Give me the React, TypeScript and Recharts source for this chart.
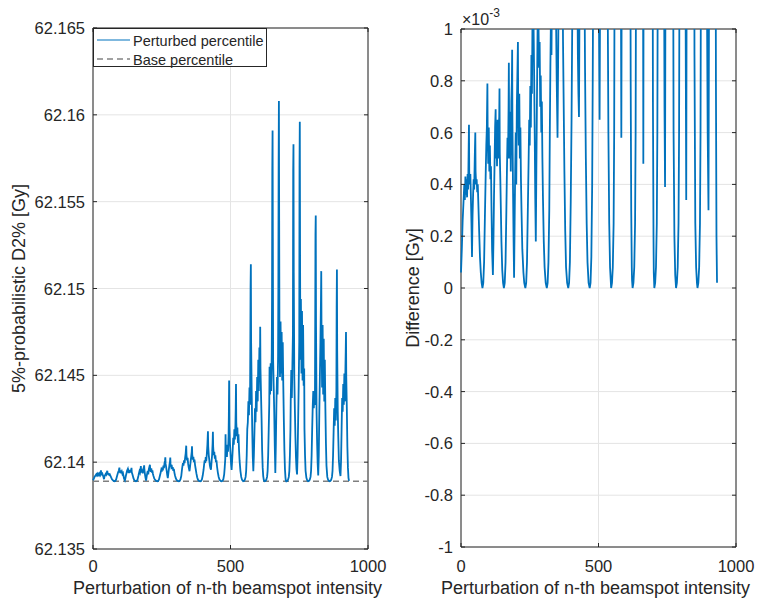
import React from 'react';
import { LineChart, Line, XAxis, YAxis, CartesianGrid, ReferenceArea, Legend } from 'recharts';

const FONT = '"Liberation Sans", Arial, Helvetica, sans-serif';
const INK = '#262626';
const BLUE = '#0072BD';
const GRID = '#e4e4e4';

// dashed reference level (Gy)
const basePercentile = 62.1389;

const xTicks = [0, 500, 1000];
const leftTicks = [62.135, 62.14, 62.145, 62.15, 62.155, 62.16, 62.165];
const rightTicks = [-1, -0.8, -0.6, -0.4, -0.2, 0, 0.2, 0.4, 0.6, 0.8, 1];
const legendOrder = ['Perturbed percentile', 'Base percentile'];

// [beamspot index, perturbed - base in 1e-3 Gy]
const hump01: [number, number][] = [
  [0, 0.06], [3, 0.15], [6, 0.26], [9, 0.33], [12, 0.4], [14, 0.34], [16, 0.43], [18, 0.36], [20, 0.42],
  [22, 0.35], [24, 0.44], [26, 0.38], [28, 0.55], [29, 0.63], [30, 0.45], [32, 0.4], [34, 0.44], [36, 0.35],
  [38, 0.25], [40, 0.12], [42, 0.28], [44, 0.36], [46, 0.42], [48, 0.38], [50, 0.5], [52, 0.6], [53, 0.45],
  [55, 0.4], [57, 0.42], [59, 0.37], [61, 0.4], [63, 0.33], [66, 0.22], [69, 0.12], [72, 0.06], [75, 0.02],
];
const hump02: [number, number][] = [
  [78, 0], [81, 0.02], [84, 0.1], [87, 0.28], [90, 0.45], [92, 0.55], [94, 0.62], [96, 0.79], [97, 0.6],
  [99, 0.48], [101, 0.62], [103, 0.45], [105, 0.55], [107, 0.42], [109, 0.47], [111, 0.3], [113, 0.15],
  [116, 0.05], [118, 0.18], [120, 0.35], [122, 0.48], [124, 0.62], [126, 0.69], [127, 0.5], [129, 0.6],
  [131, 0.47], [133, 0.65], [135, 0.5], [137, 0.62], [139, 0.66], [140, 0.77], [141, 0.52], [143, 0.42],
  [145, 0.3], [147, 0.18], [150, 0.07], [153, 0.02],
];
const hump03: [number, number][] = [
  [156, 0], [159, 0.02], [162, 0.1], [165, 0.3], [167, 0.45], [169, 0.58], [171, 0.5], [173, 0.7], [174, 0.87],
  [175, 0.6], [177, 0.5], [179, 0.68], [181, 0.45], [183, 0.72], [185, 0.8], [186, 0.92], [187, 0.65],
  [189, 0.4], [191, 0.2], [193, 0.04], [195, 0.25], [197, 0.45], [199, 0.6], [201, 0.4], [203, 0.7],
  [205, 0.82], [207, 0.95], [208, 0.7], [210, 0.55], [212, 0.75], [214, 0.5], [216, 0.62], [218, 0.42],
  [220, 0.3], [223, 0.15], [227, 0.06], [230, 0.02],
];
const hump04: [number, number][] = [
  [234, 0], [237, 0.02], [240, 0.1], [243, 0.3], [246, 0.5], [248, 0.65], [250, 0.55], [252, 0.78], [254, 0.62],
  [256, 0.9], [258, 0.75], [260, 1.05], [262, 1.2], [263, 1.38], [264, 1.0], [266, 0.82], [268, 0.6],
  [270, 0.35], [272, 0.18], [274, 0.45], [276, 0.7], [278, 0.95], [280, 1.15], [281, 1.36], [282, 1.0],
  [284, 0.85], [286, 0.95], [288, 0.7], [290, 0.82], [292, 0.6], [294, 0.72], [296, 0.5], [298, 0.35],
  [301, 0.18], [304, 0.08], [308, 0.02],
];
const hump05: [number, number][] = [
  [312, 0], [315, 0.02], [318, 0.1], [321, 0.3], [323, 0.6], [325, 0.85], [327, 1.05], [329, 0.9], [331, 1.2],
  [333, 1.05], [335, 1.35], [337, 1.6], [339, 2.05], [340, 1.5], [342, 1.2], [344, 1.35], [346, 1.0],
  [348, 0.8], [351, 0.58], [353, 0.85], [355, 1.15], [357, 1.4], [359, 1.7], [360, 2.02], [361, 1.5],
  [363, 1.25], [365, 1.4], [367, 1.1], [369, 1.25], [371, 0.95], [373, 0.75], [376, 0.45], [379, 0.22],
  [382, 0.08], [386, 0.02],
];
const hump06: [number, number][] = [
  [390, 0], [393, 0.02], [396, 0.1], [399, 0.33], [402, 0.65], [404, 0.95], [406, 1.2], [408, 1.05], [410, 1.4],
  [412, 1.15], [414, 1.6], [416, 2.1], [418, 2.88], [419, 2.0], [421, 1.5], [423, 1.2], [425, 0.9], [427, 0.75],
  [429, 0.66], [431, 1.1], [433, 1.5], [435, 2.2], [436, 2.85], [437, 2.0], [439, 1.5], [441, 1.7], [443, 1.3],
  [445, 1.5], [447, 1.1], [449, 1.2], [451, 0.85], [454, 0.5], [457, 0.25], [460, 0.1], [464, 0.02],
];
const hump07: [number, number][] = [
  [468, 0], [471, 0.02], [474, 0.12], [477, 0.4], [479, 0.8], [481, 1.3], [482, 2.7], [483, 1.6], [485, 1.9],
  [487, 1.4], [489, 2.1], [491, 1.7], [493, 2.6], [494, 3.8], [495, 5.8], [496, 3.2], [498, 2.2], [500, 1.6],
  [502, 1.0], [504, 0.65], [506, 1.2], [508, 1.8], [510, 2.5], [512, 2.1], [514, 3.0], [516, 2.4], [518, 3.3],
  [519, 4.2], [520, 5.6], [521, 3.4], [523, 2.6], [525, 3.1], [527, 2.2], [529, 2.7], [531, 1.8], [533, 1.2],
  [536, 0.6], [539, 0.25], [542, 0.08],
];
const hump08: [number, number][] = [
  [546, 0], [549, 0.02], [552, 0.08], [555, 0.25], [557, 0.6], [559, 1.5], [561, 3.0], [563, 3.4], [565, 4.6],
  [567, 3.8], [569, 5.4], [571, 4.4], [572, 7.5], [573, 11.2], [574, 12.5], [575, 8.0], [577, 5.2], [579, 3.0],
  [581, 1.4], [583, 0.58], [585, 1.5], [587, 2.8], [589, 4.2], [591, 3.4], [593, 5.2], [595, 4.0], [597, 6.0],
  [599, 4.6], [601, 7.0], [603, 5.2], [605, 7.7], [607, 6.0], [608, 8.9], [609, 6.5], [611, 5.0], [613, 3.6],
  [615, 1.8], [617, 0.8], [619, 0.3], [621, 0.08], [622, 0.03],
];
const hump09: [number, number][] = [
  [624, 0], [627, 0.02], [630, 0.08], [633, 0.25], [635, 0.6], [637, 1.5], [639, 3.0], [641, 4.5], [642, 6.6],
  [644, 5.0], [646, 6.8], [648, 5.2], [650, 7.4], [651, 10.5], [652, 17.9], [653, 20.2], [654, 14.0], [655, 7.0],
  [657, 5.5], [659, 4.0], [661, 2.0], [663, 0.48], [665, 2.2], [667, 4.4], [669, 6.0], [671, 5.0], [673, 7.2],
  [674, 11.0], [675, 18.2], [676, 21.9], [677, 15.0], [678, 8.5], [680, 6.0], [682, 9.2], [684, 6.2],
  [686, 8.6], [688, 5.8], [690, 8.0], [692, 5.5], [694, 3.5], [696, 1.8], [698, 0.7], [700, 0.2], [701, 0.06],
];
const hump10: [number, number][] = [
  [703, 0], [706, 0.02], [709, 0.08], [712, 0.25], [714, 0.6], [716, 1.5], [718, 3.0], [719, 4.6], [721, 6.4],
  [723, 4.8], [725, 6.6], [727, 8.5], [728, 17.9], [729, 19.4], [730, 12.0], [732, 6.0], [734, 4.2], [736, 2.6],
  [738, 1.4], [740, 0.7], [742, 0.39], [744, 1.5], [746, 3.5], [748, 5.5], [750, 8.0], [751, 18.1], [752, 20.7],
  [753, 13.0], [754, 7.0], [756, 10.5], [758, 6.2], [760, 9.8], [762, 5.8], [764, 9.0], [766, 5.5], [768, 6.5],
  [769, 3.0], [771, 1.5], [773, 0.6], [776, 0.2], [779, 0.05],
];
const hump11: [number, number][] = [
  [782, 0], [785, 0.02], [788, 0.08], [791, 0.25], [793, 0.6], [795, 1.5], [797, 3.0], [799, 4.3], [801, 5.2],
  [803, 4.2], [805, 5.0], [807, 4.4], [808, 9.0], [809, 14.2], [810, 15.3], [811, 9.0], [813, 4.0], [815, 2.2],
  [817, 1.0], [819, 0.34], [821, 1.5], [823, 4.0], [825, 6.0], [827, 8.0], [829, 10.5], [830, 12.1], [831, 8.6],
  [833, 5.4], [835, 9.0], [837, 5.0], [839, 8.2], [841, 4.6], [843, 7.0], [845, 4.2], [847, 2.2], [849, 0.9],
  [852, 0.25], [855, 0.08], [858, 0.02],
];
const hump12: [number, number][] = [
  [860, 0], [863, 0.02], [866, 0.08], [869, 0.25], [871, 0.6], [873, 1.5], [875, 2.9], [877, 4.2], [879, 3.2],
  [881, 4.8], [883, 3.5], [885, 5.2], [886, 10.0], [887, 12.2], [888, 7.5], [890, 4.0], [892, 2.5], [894, 1.2],
  [897, 0.6], [900, 0.3], [902, 1.2], [904, 3.0], [906, 4.8], [908, 4.0], [910, 5.6], [912, 4.4], [914, 6.2],
  [916, 4.6], [918, 6.6], [919, 7.5], [920, 8.6], [921, 6.0], [923, 4.2], [925, 2.0], [927, 0.8], [929, 0.2],
  [931, 0.02],
];

const trace = [
  ...hump01, ...hump02, ...hump03, ...hump04, ...hump05, ...hump06,
  ...hump07, ...hump08, ...hump09, ...hump10, ...hump11, ...hump12,
];

const perturbedData = trace.map(([n, d]) => ({ n, value: basePercentile + d / 1000 }));
const differenceData = trace.map(([n, d]) => ({ n, diff: d }));
const baseData = [
  { n: xTicks[0], value: basePercentile },
  { n: xTicks[xTicks.length - 1], value: basePercentile },
];

type Geo = { w: number; h: number; plotLeft: number; plotTop: number; plotW: number; plotH: number };

const Y_AXIS_W = 60;
const X_AXIS_H = 40;
const TICK_LEN = 4;

// the left svg is wider than its half so that "1000" and the x title are not cut off
const leftGeo: Geo = { w: 420, h: 606, plotLeft: 93, plotTop: 28, plotW: 275, plotH: 521 };
const rightGeo: Geo = { w: 381, h: 606, plotLeft: 80, plotTop: 29, plotW: 275, plotH: 518 };

function marginFor(g: Geo) {
  return {
    top: g.plotTop,
    left: g.plotLeft - Y_AXIS_W,
    right: g.w - g.plotLeft - g.plotW,
    bottom: g.h - g.plotTop - g.plotH - X_AXIS_H,
  };
}

const trim = (digits: number) => (v: number) => String(Number(v.toFixed(digits)));

function makeYTick(g: Geo, fmt: (v: number) => string) {
  return function YTick(props: any) {
    const y = props.payload?.coordinate ?? props.y;
    const right = g.plotLeft + g.plotW;
    return (
      <g>
        <line x1={g.plotLeft} x2={g.plotLeft + TICK_LEN} y1={y} y2={y} stroke={INK} />
        <line x1={right - TICK_LEN} x2={right} y1={y} y2={y} stroke={INK} />
        <text x={g.plotLeft - 8} y={y} textAnchor="end" dominantBaseline="central"
          fontFamily={FONT} fontSize={16.5} fill={INK}>
          {fmt(props.payload.value)}
        </text>
      </g>
    );
  };
}

function makeXTick(g: Geo) {
  return function XTick(props: any) {
    const x = props.payload?.coordinate ?? props.x;
    const bottom = g.plotTop + g.plotH;
    return (
      <g>
        <line x1={x} x2={x} y1={bottom} y2={bottom - TICK_LEN} stroke={INK} />
        <line x1={x} x2={x} y1={g.plotTop} y2={g.plotTop + TICK_LEN} stroke={INK} />
        <text x={x} y={566} textAnchor="middle" dominantBaseline="central"
          fontFamily={FONT} fontSize={16.5} fill={INK}>
          {props.payload.value}
        </text>
      </g>
    );
  };
}

function XTitle({ geo }: { geo: Geo }) {
  return (
    <text x={geo.plotLeft + geo.plotW / 2 - 3} y={588} textAnchor="middle" dominantBaseline="central"
      fontFamily={FONT} fontSize={18} fill={INK}>
      Perturbation of n-th beamspot intensity
    </text>
  );
}

function YTitle({ geo, titleX, title, exponent }: { geo: Geo; titleX: number; title: string; exponent?: boolean }) {
  const cy = geo.plotTop + geo.plotH / 2;
  return (
    <g>
      <text transform={`translate(${titleX}, ${cy}) rotate(-90)`} textAnchor="middle" dominantBaseline="central"
        fontFamily={FONT} fontSize={18} fill={INK}>
        {title}
      </text>
      {exponent && (
        <text transform={`translate(${geo.plotLeft + 1}, 19)`} dominantBaseline="central"
          fontFamily={FONT} fontSize={16} fill={INK}>
          ×10<tspan dy={-6} fontSize={12}>-3</tspan>
        </text>
      )}
    </g>
  );
}

function LegendBox({ payload }: any) {
  const entries = [...(payload ?? [])].sort(
    (a: any, b: any) => legendOrder.indexOf(a.value) - legendOrder.indexOf(b.value),
  );
  return (
    <div style={{
      width: 174, height: 39, boxSizing: 'border-box', border: `1px solid ${INK}`,
      background: '#fff', fontFamily: FONT,
    }}>
      <svg width={172} height={37} style={{ display: 'block', overflow: 'visible' }}>
        {entries.map((e: any, i: number) => {
          const cy = 11 + i * 19;
          const dash = e.payload?.strokeDasharray;
          return (
            <g key={e.value}>
              <line x1={3} x2={36} y1={cy} y2={cy} stroke={dash ? '#444' : e.color} strokeWidth={1.2}
                strokeDasharray={dash} />
              <text x={39} y={cy + 1} dominantBaseline="central" fontFamily={FONT} fontSize={14.5} fill={INK}>
                {e.value}
              </text>
            </g>
          );
        })}
      </svg>
    </div>
  );
}

function PercentilePanel() {
  const g = leftGeo;
  return (
    <LineChart width={g.w} height={g.h} margin={marginFor(g)}>
      <CartesianGrid stroke={GRID} />
      <XAxis dataKey="n" type="number" domain={[0, 1000]} ticks={xTicks} interval={0} height={X_AXIS_H}
        axisLine={false} tickLine={false} tick={makeXTick(g)} label={<XTitle geo={g} />} />
      <YAxis type="number" domain={[62.135, 62.165]} ticks={leftTicks} interval={0} width={Y_AXIS_W}
        axisLine={false} tickLine={false} tick={makeYTick(g, trim(3))}
        label={<YTitle geo={g} titleX={19} title="5%-probabilistic D2% [Gy]" />} />
      <ReferenceArea x1={0} x2={1000} y1={62.135} y2={62.165} fill="none" stroke={INK} strokeOpacity={1} />
      <Line data={baseData} dataKey="value" name="Base percentile" stroke="#7f7f7f" strokeWidth={1.5}
        strokeDasharray="6 4" dot={false} activeDot={false} isAnimationActive={false} />
      <Line data={perturbedData} dataKey="value" name="Perturbed percentile" stroke={BLUE} strokeWidth={1.8}
        dot={false} activeDot={false} isAnimationActive={false} />
      <Legend layout="vertical" align="center" verticalAlign="middle" content={<LegendBox />}
        wrapperStyle={{ left: g.plotLeft, top: g.plotTop, width: 174, height: 39 }} />
    </LineChart>
  );
}

function DifferencePanel() {
  const g = rightGeo;
  return (
    <LineChart width={g.w} height={g.h} margin={marginFor(g)}>
      <CartesianGrid stroke={GRID} />
      <XAxis dataKey="n" type="number" domain={[0, 1000]} ticks={xTicks} interval={0} height={X_AXIS_H}
        axisLine={false} tickLine={false} tick={makeXTick(g)} label={<XTitle geo={g} />} />
      <YAxis type="number" domain={[-1, 1]} ticks={rightTicks} interval={0} width={Y_AXIS_W} allowDataOverflow
        axisLine={false} tickLine={false} tick={makeYTick(g, trim(1))}
        label={<YTitle geo={g} titleX={32} title="Difference [Gy]" exponent />} />
      <ReferenceArea x1={0} x2={1000} y1={-1} y2={1} fill="none" stroke={INK} strokeOpacity={1} />
      <Line data={differenceData} dataKey="diff" name="Difference" stroke={BLUE} strokeWidth={1.8}
        dot={false} activeDot={false} isAnimationActive={false} />
    </LineChart>
  );
}

export default function App() {
  return (
    <div style={{ position: 'absolute', left: 0, top: 0, width: 762, height: 606, background: '#fff' }}>
      <div style={{ position: 'absolute', left: 0, top: 0 }}>
        <PercentilePanel />
      </div>
      <div style={{ position: 'absolute', left: 381, top: 0 }}>
        <DifferencePanel />
      </div>
    </div>
  );
}
